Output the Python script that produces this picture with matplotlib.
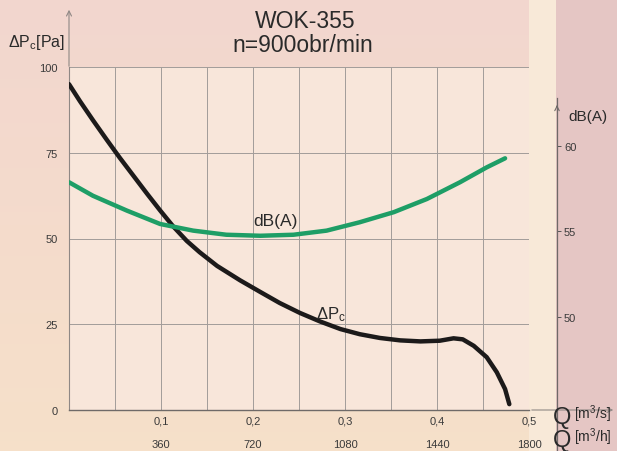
import matplotlib
matplotlib.use("Agg")
import matplotlib.pyplot as plt
import numpy as np
from matplotlib.patches import Rectangle, FancyArrowPatch
from matplotlib.lines import Line2D

plt.rcParams['font.family'] = ['Liberation Sans', 'DejaVu Sans']
plt.rcParams['mathtext.fontset'] = 'custom'
plt.rcParams['mathtext.rm'] = 'Liberation Sans'
plt.rcParams['mathtext.it'] = 'Liberation Sans'
plt.rcParams['mathtext.bf'] = 'Liberation Sans'

# ---- data ----
q_dp = [0.0, 0.012, 0.026, 0.041, 0.055, 0.070, 0.085, 0.099, 0.113, 0.128,
        0.142, 0.161, 0.186, 0.208, 0.229, 0.251, 0.273, 0.295, 0.316, 0.338,
        0.360, 0.382, 0.403, 0.418, 0.428, 0.440, 0.454, 0.465, 0.474, 0.4786]
dp = [95.0, 90.0, 84.5, 78.8, 73.6, 68.3, 63.0, 58.2, 53.6, 49.3,
      46.0, 42.0, 37.8, 34.4, 31.2, 28.3, 25.8, 23.6, 22.1, 21.0,
      20.3, 20.0, 20.2, 20.9, 20.6, 18.7, 15.4, 11.0, 6.1, 1.7]

q_db = [0.0, 0.026, 0.063, 0.099, 0.135, 0.171, 0.208, 0.244, 0.280, 0.316,
        0.353, 0.389, 0.425, 0.454, 0.474]
db = [57.88, 57.09, 56.22, 55.44, 55.05, 54.81, 54.75, 54.81, 55.05, 55.54,
      56.13, 56.90, 57.88, 58.75, 59.28]

x_ticks = [0.1, 0.2, 0.3, 0.4, 0.5]
x_labels = ['0,1', '0,2', '0,3', '0,4', '0,5']
x_labels_h = ['360', '720', '1080', '1440', '1800']
y_ticks = [0, 25, 50, 75, 100]
db_ticks = [50, 55, 60]

W, H = 617, 452
fig = plt.figure(figsize=(W / 100, H / 100), dpi=100)
fig.patch.set_facecolor('#f3d8cc')

# background: warm paper with darker band beyond the page fold
bg = fig.add_axes([0, 0, 1, 1], zorder=-10)
bg.set_xlim(0, W); bg.set_ylim(H, 0); bg.axis('off')
grad = np.linspace(0, 1, 256).reshape(-1, 1)
c_top = np.array([0.950, 0.840, 0.810])
c_bot = np.array([0.965, 0.880, 0.790])
img = c_top[None, None, :] * (1 - grad[:, :, None]) + c_bot[None, None, :] * grad[:, :, None]
bg.imshow(img, extent=[0, W, H, 0], aspect='auto')
bg.add_patch(Rectangle((529, 0), 27, H, color='#f8e9d8', lw=0))
bg.add_patch(Rectangle((556, 0), W - 556, H, color='#e5c6c4', lw=0))

L, R, T, B = 69, 529, 68, 411
ax = fig.add_axes([L / W, 1 - B / H, (R - L) / W, (B - T) / H])
ax.set_facecolor('#f8e6da')
ax.set_xlim(0, 0.5)
ax.set_ylim(0, 100)

gc = '#a29c99'
for xv in np.arange(0.05, 0.5001, 0.05):
    ax.axvline(xv, color=gc, lw=0.7, zorder=1)
for yv in [25, 50, 75, 100]:
    ax.axhline(yv, color=gc, lw=0.7, zorder=1)
for s in ['top', 'right']:
    ax.spines[s].set_visible(False)
ax.spines['left'].set_color('#8f8885')
ax.spines['bottom'].set_color('#6f6a68')
ax.spines['left'].set_linewidth(0.8)
ax.spines['bottom'].set_linewidth(1.0)

ax.set_yticks(y_ticks)
ax.set_yticklabels([str(v) for v in y_ticks])
ax.tick_params(axis='y', length=0, pad=8, labelsize=8, labelcolor='#3a3a3a')
ax.set_xticks(x_ticks)
ax.set_xticklabels(x_labels)
ax.tick_params(axis='x', length=0, pad=4, labelsize=8, labelcolor='#3a3a3a')
for xv, lab in zip(x_ticks, x_labels_h):
    ax.text(xv, -8.5, lab, ha='center', va='top', fontsize=8, color='#3a3a3a',
            transform=ax.transData, clip_on=False)

ax.plot(q_dp, dp, color='#1c1a1a', lw=3.2, solid_capstyle='round',
        solid_joinstyle='round', zorder=5)
ax.text(0.2685, 26.8, r'$\Delta\mathrm{P}_{\mathrm{c}}$', fontsize=12, color='#2a2a2a',
        ha='left', va='baseline', zorder=6)
ax.text(0.2, 53.9, 'dB(A)', fontsize=12.5, color='#2a2a2a', ha='left', va='baseline', zorder=6)

# right dB(A) axis
ax2 = ax.twinx()
ax2.set_ylim(44.56, 64.62)
for s in ['top', 'left', 'bottom']:
    ax2.spines[s].set_visible(False)
ax2.spines['right'].set_position(('axes', (557 - L) / (R - L)))
ax2.spines['right'].set_color('#6f6a68')
ax2.spines['right'].set_linewidth(0.9)
ax2.spines['right'].set_bounds(44.56, 62.8)
ax2.set_yticks(db_ticks)
ax2.set_yticklabels([str(v) for v in db_ticks])
ax2.tick_params(axis='y', direction='out', length=3, width=0.7, color='#555',
                pad=2, labelsize=8, labelcolor='#3a3a3a')
ax2.plot(q_db, db, color='#1e9e66', lw=3.2, solid_capstyle='round',
         solid_joinstyle='round', zorder=4)


def fx(px):
    return px / W


def fy(py):
    return 1 - py / H


ar = dict(arrowstyle='->', color='#8f8885', lw=0.8, mutation_scale=9)
fig.add_artist(FancyArrowPatch((fx(69), fy(70)), (fx(69), fy(8)),
                               transform=fig.transFigure, **ar))
fig.add_artist(FancyArrowPatch((fx(529), fy(411)), (fx(616), fy(411)),
                               transform=fig.transFigure, **ar))
fig.add_artist(FancyArrowPatch((fx(557), fy(111)), (fx(557), fy(106)),
                               transform=fig.transFigure, arrowstyle='->',
                               color='#6f6a68', lw=0.8, mutation_scale=8))
fig.add_artist(Line2D([fx(557), fx(557)], [fy(411), fy(452)],
                      transform=fig.transFigure, color='#6f6a68', lw=0.9))

# titles / axis labels
fig.text(fx(305), fy(22), 'WOK-355', fontsize=16.5, ha='center', va='center', color='#2a2a2a')
fig.text(fx(303), fy(45), 'n=900obr/min', fontsize=16.5, ha='center', va='center', color='#2a2a2a')
fig.text(fx(8), fy(42), r'$\Delta\mathrm{P}_{\mathrm{c}}$[Pa]', fontsize=11.5, ha='left',
         va='center', color='#2a2a2a')
fig.text(fx(568), fy(117), 'dB(A)', fontsize=11, ha='left', va='center', color='#2a2a2a')
fig.text(fx(553), fy(418), 'Q', fontsize=17, ha='left', va='center', color='#2a2a2a')
fig.text(fx(574), fy(414), r'[m$^{\mathrm{3}}$/s]', fontsize=10, ha='left', va='center', color='#2a2a2a')
fig.text(fx(553), fy(441), 'Q', fontsize=17, ha='left', va='center', color='#2a2a2a')
fig.text(fx(574), fy(437), r'[m$^{\mathrm{3}}$/h]', fontsize=10, ha='left', va='center', color='#2a2a2a')

fig.savefig('out.png', dpi=100, facecolor=fig.get_facecolor())
